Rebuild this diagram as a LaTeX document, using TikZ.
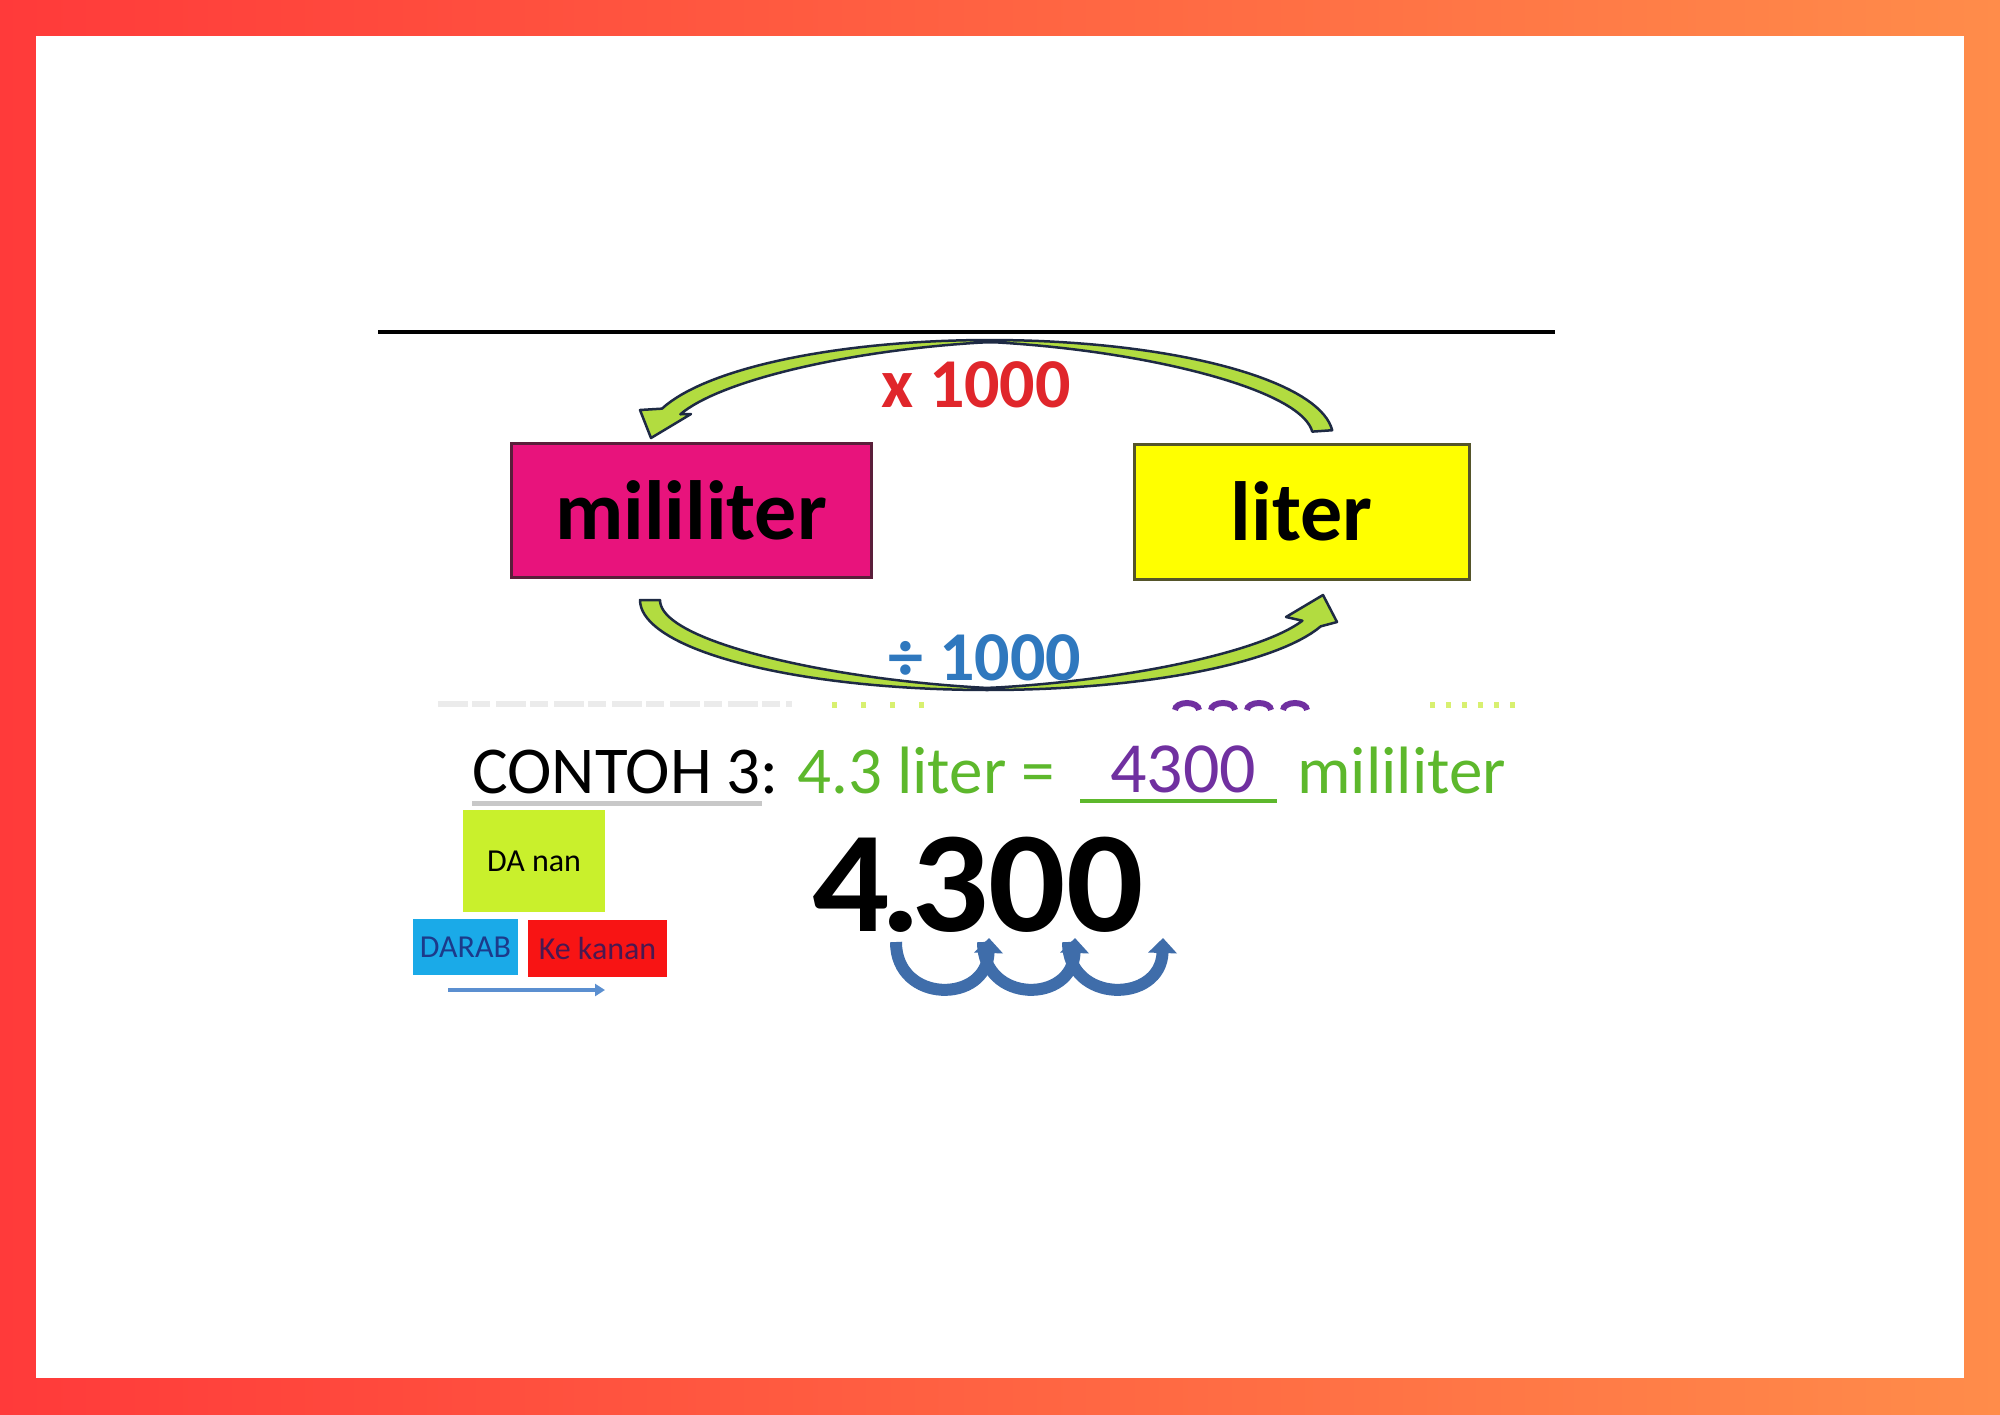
\documentclass[tikz,border=0pt]{standalone}
\usepackage{fontspec}
\setmainfont{Carlito}
\usetikzlibrary{arrows.meta}
\definecolor{frameL}{HTML}{FF3A3A}
\definecolor{frameR}{HTML}{FF8C4A}
\definecolor{mlpink}{HTML}{E8137C}
\definecolor{mlborder}{HTML}{5A1E3A}
\definecolor{ltyellow}{HTML}{FFFF00}
\definecolor{ltborder}{HTML}{55552A}
\definecolor{arrgreen}{HTML}{B2DC40}
\definecolor{arrdark}{HTML}{1E2A44}
\definecolor{redtxt}{HTML}{E0262B}
\definecolor{bluetxt}{HTML}{2F78BE}
\definecolor{greentxt}{HTML}{5DB82C}
\definecolor{limetxt}{HTML}{D8F070}
\definecolor{purpletxt}{HTML}{7030A0}
\definecolor{ujblue}{HTML}{3F6DAA}
\definecolor{limebox}{HTML}{C9F02C}
\definecolor{cyanbox}{HTML}{1AAAE8}
\definecolor{redbox}{HTML}{F81414}
\definecolor{darabtxt}{HTML}{1C3A8A}
\definecolor{kanantxt}{HTML}{4A1850}
\definecolor{ulgray}{HTML}{C8C8C8}
\definecolor{arrowblue}{HTML}{5B8FD0}
\definecolor{fadegray}{HTML}{EBEBEB}
\begin{document}
\begin{tikzpicture}[x=1pt,y=-1pt,
  bigbox/.style={rectangle, inner sep=0pt, line width=3pt,
    font=\fontsize{84}{90}\selectfont\bfseries, text=black},
  oplabel/.style={inner sep=0pt, font=\fontsize{70}{76}\selectfont\bfseries},
  linetext/.style={inner sep=0pt, anchor=base west, font=\fontsize{67}{72}\selectfont},
  smallbox/.style={rectangle, inner sep=0pt, font=\fontsize{32}{36}\selectfont},
  arrshape/.style={fill=arrgreen, draw=arrdark, line width=2.5pt, line join=round},
  uarrow/.style={draw=ujblue, line width=12pt, -{Triangle[width=28pt,length=15pt]}},
  thinarrow/.style={draw=arrowblue, line width=4pt, -{Triangle[width=12pt,length=10pt]}},
  speck/.style={line width=6pt}
]
% frame
\shade[left color=frameL, right color=frameR] (0,0) rectangle (2000,1414);
\fill[white] (36,36) rectangle (1964,1378);
\useasboundingbox (0,0) rectangle (2000,1414);

% top rule
\draw[line width=4pt] (378,332) -- (1555,332);

% boxes
\node[bigbox, fill=mlpink, draw=mlborder, minimum width=360pt, minimum height=134pt] (ml) at (691,510) {mililiter};
\node[bigbox, fill=ltyellow, draw=ltborder, minimum width=335pt, minimum height=135pt] (lt) at (1301.5,511.5) {liter};

% top curved arrow (liter -> mililiter)
\filldraw[arrshape]
  plot[domain=4:163, samples=70] ({990+343*cos(\x)},{437-97*sin(\x)})
  -- (640,410) -- (651,438) -- (691,414)
  -- plot[domain=163:4, samples=70] ({990+(343-(2+18*abs(cos(\x))))*cos(\x)},{437-(97-(2+18*abs(cos(\x))))*sin(\x)})
  -- cycle;

% bottom curved arrow (mililiter -> liter)
\filldraw[arrshape]
  plot[domain=180:343, samples=70] ({988+348*cos(\x)},{600-90*sin(\x)})
  -- (1337,622) -- (1323,595) -- (1286,617)
  -- plot[domain=343:180, samples=70] ({988+(348-(2+18*abs(cos(\x))))*cos(\x)},{600-(90-(2+18*abs(cos(\x))))*sin(\x)})
  -- cycle;

% operation labels
\node[oplabel, text=redtxt] (mul) at (976,385) {x 1000};
\node[oplabel, text=bluetxt] (div) at (985,658) {÷ 1000};

% faded cut-off fragments of a line below the arrows
\draw[speck, fadegray, dash pattern=on 30pt off 4pt on 18pt off 6pt] (438,704) -- (792,704);
\draw[speck, limetxt, dash pattern=on 5pt off 24pt] (832,705) -- (935,705);
\foreach \cx in {1187,1223,1259,1295}
  \draw[speck, purpletxt, line width=6pt] (\cx-12,710) arc[start angle=180, end angle=0, x radius=12pt, y radius=7pt];
\draw[speck, limetxt, dash pattern=on 5pt off 11pt] (1430,705) -- (1517,705);

% example line
\node[linetext, text=black] (contoh) at (472,793) {CONTOH 3:};
\node[linetext, text=greentxt] (eq) at (797,793) {4.3 liter =};
\node[inner sep=0pt, anchor=base, text=purpletxt, font=\fontsize{72}{76}\selectfont] (ans) at (1183,792) {4300};
\node[linetext, text=greentxt] (unit) at (1297,793) {mililiter};
\draw[ulgray, line width=5pt] (472,803) -- (762,803);
\draw[greentxt, line width=4pt] (1080,801) -- (1277,801);

% big number
\node[inner sep=0pt, anchor=base, font=\fontsize{144}{150}\selectfont\bfseries] (big) at (978,931)
  {\scalebox{1.06}[1]{4\kern-9pt.\kern-9pt300}};

% jump arrows
\coordinate (j0) at (896,942);
\coordinate (j1) at (989,938);
\coordinate (j1s) at (983,942);
\coordinate (j2) at (1075,938);
\coordinate (j2s) at (1068,942);
\coordinate (j3) at (1163,938);
\draw[uarrow] (j0) .. controls (896,1004) and (987,1004) .. (j1);
\draw[uarrow] (j1s) .. controls (983,1004) and (1073,1004) .. (j2);
\draw[uarrow] (j2s) .. controls (1068,1004) and (1161,1004) .. (j3);

% small boxes
\node[smallbox, fill=limebox, text=black, minimum width=142pt, minimum height=102pt] (danan) at (534,861) {DA nan};
\node[smallbox, fill=cyanbox, text=darabtxt, minimum width=105pt, minimum height=56pt] (darab) at (465.5,947) {DARAB};
\node[smallbox, fill=redbox, text=kanantxt, minimum width=139pt, minimum height=57pt] (kanan) at (597.5,948.5) {Ke kanan};
\coordinate (ba1) at (448,990);
\coordinate (ba2) at (605,990);
\draw[thinarrow] (ba1) -- (ba2);
\end{tikzpicture}
\end{document}
